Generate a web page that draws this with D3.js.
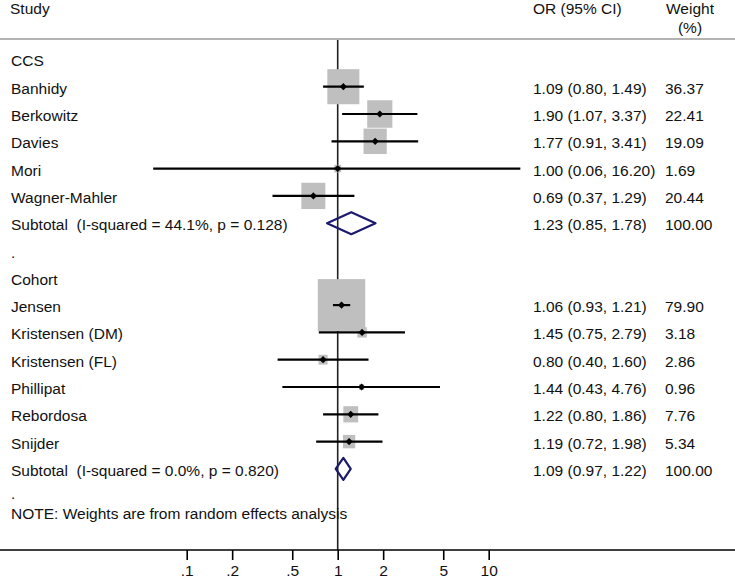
<!DOCTYPE html>
<html>
<head>
<meta charset="utf-8">
<script src="https://cdn.jsdelivr.net/npm/d3@7"></script>
<style>
  html, body { margin: 0; padding: 0; background: #fff; }
  svg { display: block; }
  text { font-family: "Liberation Sans", Arial, sans-serif; font-size: 15.5px; fill: #111; white-space: pre; }
</style>
</head>
<body>
<svg id="chart" width="735" height="582"></svg>
<script>
// CCS studies
const ccsStudies = ['Banhidy', 'Berkowitz', 'Davies', 'Mori', 'Wagner-Mahler'];
const ccsOR = [1.09, 1.90, 1.77, 1.00, 0.69];
const ccsLow = [0.80, 1.07, 0.91, 0.06, 0.37];
const ccsHigh = [1.49, 3.37, 3.41, 16.20, 1.29];
const ccsWeight = [36.37, 22.41, 19.09, 1.69, 20.44];
const ccsSubtotal = { label: 'Subtotal  (I-squared = 44.1%, p = 0.128)', or: 1.23, lo: 0.85, hi: 1.78, w: 100.00 };

// Cohort studies
const cohortStudies = ['Jensen', 'Kristensen (DM)', 'Kristensen (FL)', 'Phillipat', 'Rebordosa', 'Snijder'];
const cohortOR = [1.06, 1.45, 0.80, 1.44, 1.22, 1.19];
const cohortLow = [0.93, 0.75, 0.40, 0.43, 0.80, 0.72];
const cohortHigh = [1.21, 2.79, 1.60, 4.76, 1.86, 1.98];
const cohortWeight = [79.90, 3.18, 2.86, 0.96, 7.76, 5.34];
const cohortSubtotal = { label: 'Subtotal  (I-squared = 0.0%, p = 0.820)', or: 1.09, lo: 0.97, hi: 1.22, w: 100.00 };

const tickValues = [0.1, 0.2, 0.5, 1, 2, 5, 10];
const tickLabels = ['.1', '.2', '.5', '1', '2', '5', '10'];
const note = 'NOTE: Weights are from random effects analysis';

// build the row list
const rows = [];
const addGroup = (name, studies, or, lo, hi, w, sub) => {
  rows.push({ type: 'group', label: name });
  studies.forEach((s, i) => rows.push({ type: 'study', label: s, or: or[i], lo: lo[i], hi: hi[i], w: w[i] }));
  rows.push(Object.assign({ type: 'subtotal' }, sub));
  rows.push({ type: 'dot', label: '.' });
};
addGroup('CCS', ccsStudies, ccsOR, ccsLow, ccsHigh, ccsWeight, ccsSubtotal);
addGroup('Cohort', cohortStudies, cohortOR, cohortLow, cohortHigh, cohortWeight, cohortSubtotal);

const svg = d3.select('#chart');
const width = 735;
const f2 = d3.format('.2f');

const x = d3.scaleLog().domain([0.1, 10]).range([186.7, 488.7]);
const y = d3.scaleLinear().domain([0, 1]).range([59.4, 86.7]);
const boxW = d3.scaleSqrt().domain([0, 80]).range([0, 47.5]);
const boxH = d3.scaleSqrt().domain([0, 80]).range([0, 52]);

const axisY = 550;
const colOR = 533;
const colW = 665;

// header
svg.append('text').attr('x', 10).attr('y', 14).text('Study');
svg.append('text').attr('x', colOR).attr('y', 14).text('OR (95% CI)');
svg.append('text').attr('x', 690).attr('y', 14).attr('text-anchor', 'middle').text('Weight');
svg.append('text').attr('x', 690).attr('y', 33).attr('text-anchor', 'middle').text('(%)');
svg.append('line')
  .attr('x1', 0).attr('x2', width).attr('y1', 39).attr('y2', 39)
  .attr('stroke', '#b3b3b3').attr('stroke-width', 1.8);

// null line
svg.append('line')
  .attr('x1', x(1)).attr('x2', x(1)).attr('y1', 40).attr('y2', axisY)
  .attr('stroke', '#222').attr('stroke-width', 1.6);

const g = svg.append('g');

rows.forEach((r, i) => {
  const yc = y(i);
  if (r.type === 'study') {
    g.append('rect')
      .attr('x', x(r.or) - boxW(r.w) / 2)
      .attr('y', yc - boxH(r.w) / 2)
      .attr('width', boxW(r.w))
      .attr('height', boxH(r.w))
      .attr('fill', '#bfbfbf');
    g.append('line')
      .attr('x1', x(r.lo)).attr('x2', x(r.hi)).attr('y1', yc).attr('y2', yc)
      .attr('stroke', '#000').attr('stroke-width', 2.2);
    const s = 3.6;
    g.append('path')
      .attr('d', `M${x(r.or) - s},${yc}L${x(r.or)},${yc - s}L${x(r.or) + s},${yc}L${x(r.or)},${yc + s}Z`)
      .attr('fill', '#000');
  } else if (r.type === 'subtotal') {
    const h = 11;
    g.append('path')
      .attr('d', `M${x(r.lo)},${yc}L${x(r.or)},${yc - h}L${x(r.hi)},${yc}L${x(r.or)},${yc + h}Z`)
      .attr('fill', 'none').attr('stroke', '#1a1a6e').attr('stroke-width', 2.2)
      .attr('stroke-linejoin', 'round');
  }

  // the last "." sits just above the note, keep it clear of it
  const last = i === rows.length - 1;
  g.append('text').attr('x', 11).attr('y', last ? yc + 3 : yc + 7).text(r.label);
  if (r.type === 'study' || r.type === 'subtotal') {
    g.append('text').attr('x', colOR).attr('y', yc + 7)
      .text(`${f2(r.or)} (${f2(r.lo)}, ${f2(r.hi)})`);
    g.append('text').attr('x', colW).attr('y', yc + 7).text(f2(r.w));
  }
});

svg.append('text').attr('x', 11).attr('y', 519).text(note);

// x axis
svg.append('line')
  .attr('x1', 0).attr('x2', width).attr('y1', axisY).attr('y2', axisY)
  .attr('stroke', '#000').attr('stroke-width', 1.6);

const axis = d3.axisBottom(x)
  .tickValues(tickValues)
  .tickSize(10)
  .tickFormat((d, i) => tickLabels[i]);

const ax = svg.append('g')
  .attr('transform', `translate(0,${axisY})`)
  .call(axis);
ax.select('.domain').remove();
ax.selectAll('.tick line').attr('stroke', '#000').attr('stroke-width', 1.6);
ax.selectAll('.tick text')
  .attr('y', 0).attr('dy', 26)
  .style('font-family', '"Liberation Sans", Arial, sans-serif')
  .style('font-size', '15.5px')
  .attr('fill', '#111');
</script>
</body>
</html>
